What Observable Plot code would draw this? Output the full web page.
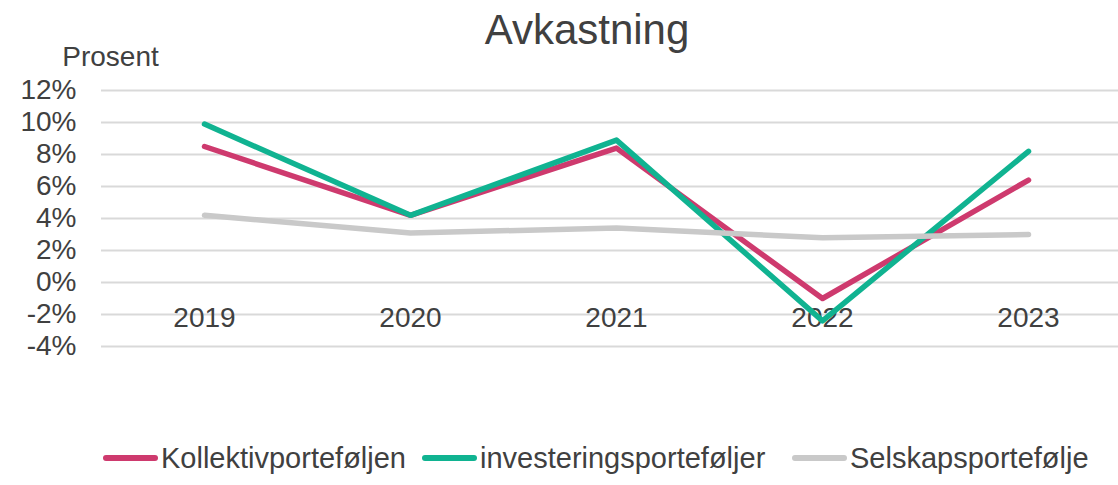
<!DOCTYPE html>
<html>
<head>
<meta charset="utf-8">
<script src="https://cdn.jsdelivr.net/npm/d3@7"></script>
<script src="https://cdn.jsdelivr.net/npm/@observablehq/plot@0.6"></script>
<style>
  html, body { margin: 0; padding: 0; background: #fff; overflow: hidden; }
  #wrap { position: relative; width: 1118px; height: 485px; font-family: "Liberation Sans", Arial, sans-serif; color: #404040; }
  #title { position: relative; height: 50px; }
  #title span { position: absolute; left: 587px; top: 9px; transform: translateX(-50%); font-size: 42px; line-height: 42px; white-space: nowrap; }
  #legend { position: relative; height: 50px; }
  .item { position: absolute; top: 5px; display: flex; align-items: center; font-size: 29px; line-height: 36px; white-space: nowrap; }
  .sw { display: inline-block; width: 55px; height: 6px; border-radius: 3px; margin-right: 3px; }
</style>
</head>
<body>
<div id="wrap">
  <div id="title"><span>Avkastning</span></div>
  <div id="chart"></div>
  <div id="legend"></div>
</div>
<script>
const years = ["2019", "2020", "2021", "2022", "2023"];
const seriesNames = ["Kollektivporteføljen", "investeringsporteføljer", "Selskapsportefølje"];
const kollektiv = [8.5, 4.2, 8.4, -1.0, 6.4];
const investering = [9.9, 4.2, 8.9, -2.4, 8.2];
const selskap = [4.2, 3.1, 3.4, 2.8, 3.0];
const yTicks = [-4, -2, 0, 2, 4, 6, 8, 10, 12];
const colors = ["#CE3A6E", "#10B391", "#C9C9C9"];
const yLabel = "Prosent";

const allValues = [kollektiv, investering, selskap];
const data = [];
seriesNames.forEach((name, i) => {
  years.forEach((yr, j) => data.push({ series: name, year: yr, value: allValues[i][j] }));
});

const chart = Plot.plot({
  width: 1118,
  height: 385,
  marginLeft: 101,
  marginRight: 0,
  marginTop: 40,
  marginBottom: 89,
  style: { fontFamily: "Liberation Sans, Arial, sans-serif", fontSize: "28px", color: "#404040", background: "#fff", overflow: "visible" },
  x: { type: "point", domain: years, range: [204, 1028], padding: 0, axis: null },
  y: { domain: [-4, 12], ticks: yTicks, tickFormat: d => d + "%", label: null },
  color: { domain: seriesNames, range: colors },
  marks: [
    Plot.ruleY(yTicks, { stroke: "#D9D9D9", strokeWidth: 2 }),
    Plot.axisY({ ticks: yTicks, tickFormat: d => d + "%", tickSize: 0, tickPadding: 25, fontSize: 28, label: null }),
    Plot.text(years, { x: d => d, y: () => -2, dy: 4, fontSize: 28, fill: "#404040" }),
    Plot.text([yLabel], { frameAnchor: "top-left", dx: 9, dy: -33, textAnchor: "middle", lineAnchor: "middle", fontSize: 28, fill: "#404040" }),
    Plot.line(data, { x: "year", y: "value", z: "series", stroke: "series", strokeWidth: 5.5, strokeLinecap: "round", strokeLinejoin: "round" })
  ]
});
document.getElementById("chart").appendChild(chart);

const legend = document.getElementById("legend");
const lefts = [103, 422, 792];
seriesNames.forEach((name, i) => {
  const it = document.createElement("div");
  it.className = "item";
  it.style.left = lefts[i] + "px";
  const sw = document.createElement("span");
  sw.className = "sw";
  sw.style.background = colors[i];
  const tx = document.createElement("span");
  tx.textContent = name;
  it.appendChild(sw);
  it.appendChild(tx);
  legend.appendChild(it);
});
</script>
</body>
</html>
